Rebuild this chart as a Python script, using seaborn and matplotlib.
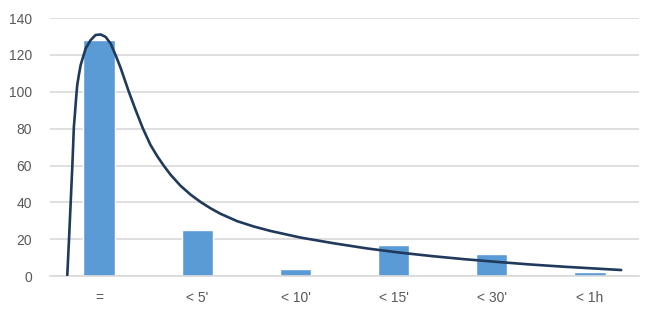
import matplotlib
matplotlib.use("Agg")
import matplotlib.pyplot as plt
import seaborn as sns
import pandas as pd

categories = ["=", "< 5'", "< 10'", "< 15'", "< 30'", "< 1h"]
counts = [128, 25, 4, 17, 12, 2]

# curve (x in category units)
curve_x = [-0.324, -0.307, -0.290, -0.273, -0.257, -0.247, -0.235, -0.223, -0.205,
           -0.188, -0.137, -0.087, -0.036, 0.015, 0.066, 0.117, 0.168, 0.219,
           0.303, 0.372, 0.446, 0.524, 0.593, 0.660, 0.728, 0.830, 0.932, 1.034,
           1.135, 1.237, 1.407, 1.576, 1.746, 2.052, 2.391, 2.731, 3.070, 3.400,
           3.715, 4.055, 4.394, 4.733, 5.318]
curve_y = [0.5, 19.5, 39.4, 59.3, 81.0, 87.5, 96.0, 103.6, 109.5,
           114.5, 123.5, 128.0, 130.8, 131.1, 129.8, 126.2, 119.9, 113.0,
           100.0, 90.1, 80.1, 71.1, 65.0, 59.8, 55.0, 49.0, 44.2, 40.2,
           36.8, 33.8, 29.8, 26.9, 24.5, 20.9, 17.8, 15.0, 12.7, 10.8,
           9.2, 7.7, 6.3, 5.1, 3.3]

y_ticks = [0, 20, 40, 60, 80, 100, 120, 140]

sns.set_theme(style="white")
plt.rcParams['font.family'] = ['Liberation Sans', 'DejaVu Sans']

fig = plt.figure(figsize=(6.53, 3.17), dpi=100)
ax = fig.add_axes([0.0766, 0.129, 0.902, 0.814])

df = pd.DataFrame({"cat": categories, "n": counts})
sns.barplot(data=df, x="cat", y="n", color="#5b9bd5", saturation=1, width=0.32,
            ax=ax, zorder=2)
sns.lineplot(x=curve_x, y=curve_y, color="#1f3a5a", linewidth=1.9, ax=ax,
             zorder=3, sort=False, solid_joinstyle="round", solid_capstyle="round")

ax.set_xlim(-0.5, 5.5)
ax.set_ylim(0, 140)
ax.set_yticks(y_ticks)
ax.set_yticklabels([str(v) for v in y_ticks])
ax.yaxis.grid(True, color="#d9d9d9", linewidth=1.2, zorder=0)
ax.set_axisbelow(True)
for s in ["top", "right", "left"]:
    ax.spines[s].set_visible(False)
ax.spines["bottom"].set_color("#d9d9d9")
ax.spines["bottom"].set_linewidth(1.2)
ax.set_xlabel("")
ax.set_ylabel("")
ax.tick_params(axis="both", length=0, labelsize=10, labelcolor="#595959")
ax.tick_params(axis="x", pad=11)
ax.tick_params(axis="y", pad=13)

fig.savefig("out.png", dpi=100)
